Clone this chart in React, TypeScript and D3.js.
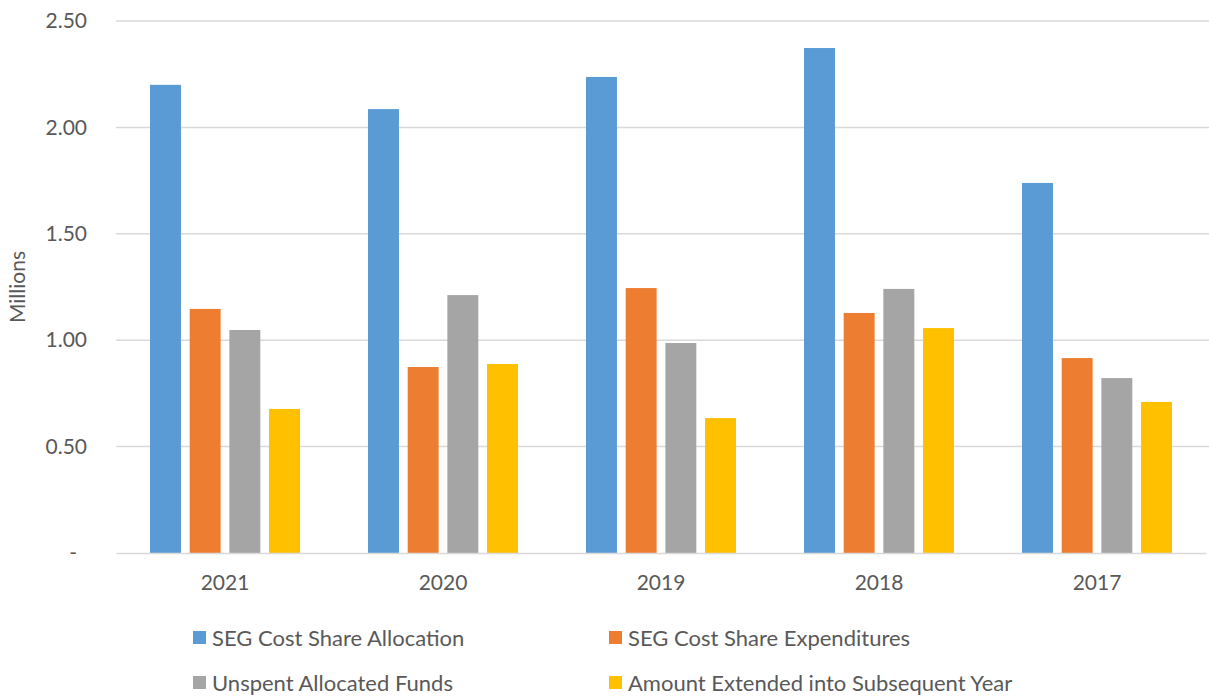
import { useEffect, useRef } from "react";
import * as d3 from "d3";

const years = ["2021", "2020", "2019", "2018", "2017"];
const seriesNames = [
  "SEG Cost Share Allocation",
  "SEG Cost Share Expenditures",
  "Unspent Allocated Funds",
  "Amount Extended into Subsequent Year",
];
const allocation = [2.2, 2.086, 2.237, 2.373, 1.739];
const expenditures = [1.147, 0.874, 1.245, 1.128, 0.916];
const unspent = [1.048, 1.212, 0.987, 1.241, 0.822];
const extended = [0.677, 0.888, 0.634, 1.057, 0.71];
const yTicks = [0, 0.5, 1, 1.5, 2, 2.5];
const colors = ["#5B9BD5", "#ED7D31", "#A5A5A5", "#FFC000"];

const App = () => {
  const width = 1209;
  const height = 698;
  const marginLeft = 116;
  const marginRight = 3;
  const marginTop = 21;
  const marginBottom = 145;
  const font = "Lato, 'Open Sans', sans-serif";
  const textColor = "#595959";

  const gx = useRef<SVGGElement>(null);
  const gy = useRef<SVGGElement>(null);

  const values = [allocation, expenditures, unspent, extended];
  const x0 = d3.scaleBand().domain(years).range([marginLeft, width - marginRight]).paddingInner(0.312).paddingOuter(0.156);
  const x1 = d3.scaleBand().domain(seriesNames).range([0, x0.bandwidth()]).paddingInner(0.22);
  const y = d3.scaleLinear().domain([0, 2.5]).range([height - marginBottom, marginTop]);

  useEffect(() => {
    const g = d3.select(gx.current);
    g.call(d3.axisBottom(x0).tickSize(0).tickPadding(22) as any);
    g.select(".domain").attr("stroke", "#d9d9d9").attr("stroke-width", 1.5);
    g.selectAll("text").attr("font-size", 21).attr("font-family", font).attr("fill", textColor);
  }, []);

  useEffect(() => {
    const g = d3.select(gy.current);
    g.call(
      d3.axisLeft(y).tickValues(yTicks).tickSize(0).tickPadding(29)
        .tickFormat((d: any) => (d === 0 ? "-" : d3.format(".2f")(d))) as any
    );
    g.select(".domain").remove();
    g.selectAll("text").attr("font-size", 21).attr("font-family", font).attr("fill", textColor);
    g.selectAll<SVGTextElement, number>("text").filter((d) => d === 0).attr("dx", -10);
  }, []);

  return (
    <svg width={width} height={height} style={{ position: "fixed", left: 0, top: 0, background: "#fff" }}>
      <g>
        {yTicks.filter((t) => t > 0).map((t) => (
          <line key={t} x1={marginLeft} x2={width} y1={y(t)} y2={y(t)} stroke="#d9d9d9" strokeWidth={1.5} />
        ))}
      </g>
      {values.map((vals, si) => (
        <g key={si} fill={colors[si]}>
          {vals.map((v, i) => (
            <rect key={i} x={x0(years[i])! + x1(seriesNames[si])!} y={y(v)} width={x1.bandwidth()} height={y(0) - y(v)} />
          ))}
        </g>
      ))}
      <g ref={gx} transform={`translate(0,${y(0)})`} />
      <g ref={gy} transform={`translate(${marginLeft},0)`} />
      <text transform={`translate(25,${(y(0) + y(2.5)) / 2}) rotate(-90)`} textAnchor="middle" fontSize={21} fontFamily={font} fill={textColor}>
        Millions
      </text>
      {seriesNames.map((name, i) => {
        const lx = i % 2 === 0 ? 193 : 609;
        const ly = i < 2 ? 638 : 683;
        return (
          <g key={name} transform={`translate(${lx},${ly})`}>
            <rect x={0} y={-7} width={13} height={13} fill={colors[i]} />
            <text x={19} y={0} dy="0.35em" fontSize={22} fontFamily={font} fill={textColor}>{name}</text>
          </g>
        );
      })}
    </svg>
  );
};

export default App;
